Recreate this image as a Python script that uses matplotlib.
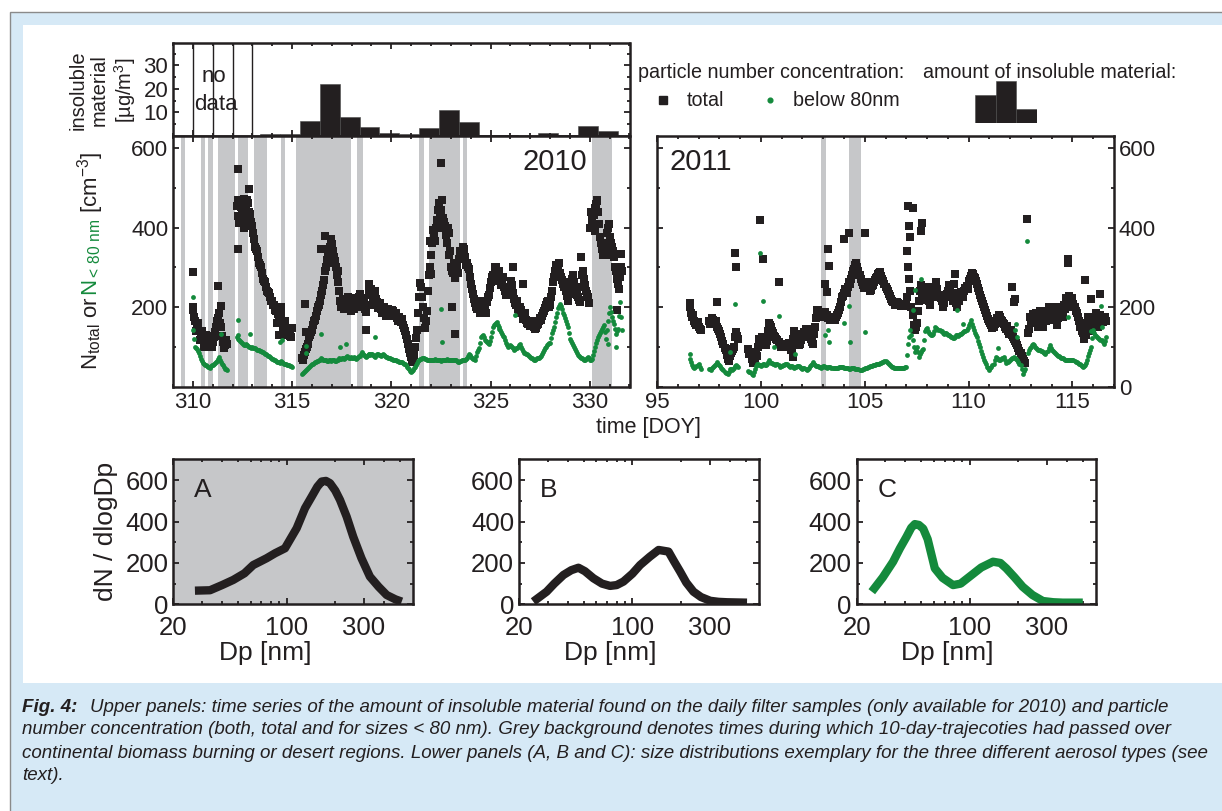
import numpy as np
import matplotlib
matplotlib.use('Agg')
import matplotlib.pyplot as plt
import matplotlib.transforms as mtransforms
from matplotlib.patches import Rectangle
from matplotlib.lines import Line2D
from matplotlib import font_manager
from matplotlib.ticker import FixedLocator, NullFormatter

nan = float('nan')

# ---- daily filter samples (2010): start DOY and insoluble material [ug/m3]
filter_start = [313.4, 314.4, 315.4, 316.4, 317.4, 318.4, 319.4, 320.4, 321.4,
                322.4, 323.4, 324.4, 325.4, 326.4, 327.4, 328.4, 329.4, 330.4]
filter_insol = [0.7, 0.7, 6.4, 22.1, 7.9, 3.9, 1.3, 0.7, 3.3,
                11.0, 6.0, 0.4, 0.3, 0.2, 1.1, 0.4, 4.1, 2.1]
no_data_days = [310, 311, 312, 313]

# ---- periods with continental (biomass burning / desert) trajectories
shade10_start = [309.39, 310.41, 310.76, 311.26, 312.27, 313.08, 314.42, 315.21,
                 318.27, 321.40, 321.90, 323.59, 330.09]
shade10_end = [309.62, 310.59, 311.01, 312.10, 312.77, 313.75, 314.62, 317.95,
               318.57, 321.63, 323.45, 323.79, 331.10]
shade11_start = [102.88, 104.25]
shade11_end = [103.13, 104.81]

# ---- 2010 particle number concentration [cm-3]
# samples on the full tenth of a day (310.0 ...) and on the half steps (310.05 ...)
t10 = np.round(np.arange(310.0, 331.65, 0.1), 2)
t10b = np.round(np.arange(310.05, 331.6, 0.1), 2)
ntot10 = [
    200, 165, 150, 140, 125, 118, 110, 128, 105, 118,
    112, 138, 165, 185, 150, 112, 104, 108, nan, nan,
    nan, nan, 455, 430, 465, 440, 472, 448, 462, 435,
    405, 370, 345, 325, 305, 285, 265, 250, 238, 226,
    216, 205, 190, 182, 170, 162, 150, 142, 133, 128,
    148, nan, nan, nan, nan, 72, 80, 95, 108, 130,
    142, 165, 178, 200, 215, 240, 268, 300, 335, 350,
    358, 325, 300, 262, 215, 205, 195, 210, 225, 200,
    205, 195, 222, 212, 232, 200, 216, 188, 205, 250,
    245, 222, 205, 212, 200, 195, 192, 188, 185, 190,
    183, 190, 178, 172, 175, 162, 155, 140, 120, 95,
    75, 62, 100, 142, 225, 250, 200, 148, 190, 280,
    330, 395, 365, 420, 462, 445, 425, 405, 362, 385,
    300, 285, 272, 300, 322, 338, 350, 325, 310, 295,
    258, 232, 210, 195, 205, 190, 185, 198, 212, 230,
    262, 280, 295, 285, 275, 265, 258, 250, 230, 245,
    250, 255, 220, 205, 195, 200, 185, 178, 168, 158,
    152, 165, 150, 148, 158, 172, 178, 190, 205, 215,
    205, 240, 275, 305, 300, 285, 268, 250, 240, 215,
    248, 270, 262, 238, 225, 212, 280, 270, 240, 225,
    400, 420, 432, 460, 440, 375, 345, 330, 360, 400,
    375, 350, 325, 292, 258, 275, 290]
ntot10b = [
    175, 140, 160, 118, 140, 100, 130, 108, 125, 100,
    125, 150, 172, 160, 128, 98, 118, nan, nan, nan,
    nan, nan, 470, 412, 452, 425, 455, 470, 440, 415,
    385, 352, 340, 310, 300, 270, 262, 240, 236, 215,
    205, 192, 200, 170, 185, 150, 165, 130, 148, 125,
    nan, nan, nan, nan, nan, 68, 88, 100, 125, 138,
    155, 168, 190, 205, 230, 255, 290, 318, 345, 370,
    340, 315, 280, 240, 200, 220, 205, 195, 212, 190,
    215, 210, 200, 225, 210, 222, 195, 205, 232, 235,
    230, 215, 220, 198, 210, 185, 200, 178, 195, 178,
    192, 180, 185, 165, 168, 170, 148, 130, 108, 85,
    65, 80, 122, 185, 260, 225, 172, 165, 240, 300,
    360, 380, 400, 445, 440, 470, 415, 380, 400, 340,
    292, 310, 290, 285, 340, 325, 345, 305, 300, 275,
    245, 220, 200, 215, 185, 200, 205, 185, 225, 248,
    275, 265, 300, 270, 290, 255, 275, 240, 250, 230,
    265, 235, 210, 215, 185, 192, 170, 185, 160, 165,
    160, 155, 145, 155, 165, 168, 185, 198, 212, 200,
    225, 262, 290, 295, 310, 275, 258, 262, 228, 232,
    262, 280, 250, 230, 218, 250, 292, 255, 232, 210,
    440, 405, 450, 470, 410, 360, 330, 350, 385, 410,
    360, 340, 300, 270, 245, 300]
nsmall10 = [
    142, 100, 95, 85, 70, 60, 55, 52, 50, 52,
    55, 60, 65, 75, 62, 55, 45, 42, nan, nan,
    nan, nan, 125, 120, 115, 110, 105, 108, 102, 100,
    100, 97, 95, 92, 90, 88, 85, 82, 78, 75,
    70, 68, 65, 62, 60, 62, 58, 56, 55, 53,
    50, nan, nan, nan, nan, 33, 36, 42, 48, 52,
    56, 60, 62, 65, 68, 70, 66, 68, 65, 66,
    68, 66, 64, 68, 70, 72, 70, 74, 75, 72,
    72, 75, 70, 75, 78, 87, 80, 75, 80, 83,
    82, 80, 75, 83, 80, 78, 82, 76, 75, 72,
    70, 68, 67, 65, 63, 62, 60, 57, 50, 45,
    37, 42, 50, 60, 67, 70, 72, 70, 68, 67,
    66, 67, 70, 66, 67, 65, 68, 66, 70, 67,
    66, 67, 68, 64, 62, 65, 66, 68, 72, 83,
    75, 70, 68, 88, 96, 125, 130, 118, 112, 108,
    125, 150, 158, 162, 150, 142, 132, 125, 110, 100,
    104, 100, 92, 96, 100, 108, 95, 85, 83, 80,
    75, 72, 67, 70, 72, 75, 82, 92, 100, 108,
    110, 135, 150, 175, 198, 208, 195, 179, 165, 150,
    121, 110, 100, 90, 79, 74, 71, 67, 70, 75,
    67, 70, 90, 110, 125, 135, 145, 155, 120, 165,
    200, 175, 158, 133, 145, 212, 142]
nsmall10b = [
    120, 98, 90, 78, 65, 58, 54, 50, 48, 55,
    58, 62, 70, 68, 58, 50, 44, nan, nan, nan,
    nan, nan, 130, 118, 112, 107, 106, 104, 100, 98,
    98, 96, 93, 91, 89, 86, 83, 80, 76, 72,
    69, 66, 63, 61, 64, 60, 57, 55, 54, 51,
    nan, nan, nan, nan, nan, 35, 39, 45, 50, 54,
    58, 61, 64, 66, 72, 68, 67, 64, 68, 64,
    67, 65, 66, 72, 69, 71, 72, 76, 73, 74,
    73, 72, 73, 77, 82, 83, 77, 78, 82, 80,
    83, 78, 79, 81, 79, 80, 79, 75, 73, 71,
    69, 67, 66, 64, 62, 61, 58, 54, 48, 40,
    39, 46, 55, 64, 69, 71, 71, 69, 67, 66,
    66, 68, 68, 66, 66, 67, 67, 68, 68, 66,
    66, 68, 66, 63, 64, 66, 67, 70, 78, 80,
    72, 69, 78, 92, 110, 128, 124, 115, 110, 116,
    138, 154, 160, 156, 146, 137, 128, 118, 105, 102,
    102, 96, 94, 98, 104, 100, 90, 84, 82, 78,
    73, 70, 68, 71, 73, 78, 87, 96, 104, 109,
    122, 142, 162, 186, 204, 202, 186, 172, 158, 135,
    115, 105, 95, 84, 76, 72, 69, 68, 72, 71,
    68, 80, 100, 118, 130, 140, 150, 138, 142, 185,
    188, 165, 145, 140, 178, 175]
# isolated samples off the main band
ntot10_x_t = [310.0, 310.02, 311.29, 311.43, 312.27, 312.3, 312.82, 312.6, 312.7,
              314.25, 314.45, 314.35, 315.63, 315.68, 316.45, 316.64, 316.8, 317.1,
              317.3, 318.74, 318.9, 319.2, 321.93, 322.02, 322.52, 322.6, 322.9,
              323.06, 323.2, 324.6, 325.21, 326.13, 326.64, 328.4, 329.58, 330.34,
              330.25, 330.9, 331.35, 331.55]
ntot10_x_v = [289, 192, 252, 204, 547, 346, 496, 400, 420,
              160, 200, 130, 207, 137, 346, 379, 330, 312,
              290, 142, 258, 240, 367, 283, 562, 400, 330,
              200, 133, 215, 300, 300, 258, 285, 325, 467,
              392, 330, 192, 333]
nsmall10_x_t = [310.0, 311.43, 312.27, 312.86, 314.4, 314.48, 315.68, 315.71, 316.45,
                317.4, 317.73, 319.16, 322.52, 322.55, 326.22, 330.9, 331.3]
nsmall10_x_v = [225, 133, 167, 133, 112, 117, 102, 85, 133,
                100, 108, 125, 196, 112, 179, 108, 100]

# ---- 2011 particle number concentration [cm-3]
t11 = np.round(np.arange(96.6, 116.65, 0.1), 2)
t11b = np.round(np.arange(96.65, 116.6, 0.1), 2)
ntot11 = [
    200, 175, 165, 155, 150, 142, nan, nan, nan, 165,
    160, 168, 158, 150, 140, 125, 108, 92, 70, 78,
    90, 100, 137, 120, nan, nan, nan, nan, 95, 88,
    60, 72, 78, 120, 110, 108, 120, 115, 160, 150,
    135, 125, 118, 108, 102, 100, 108, 104, 100, 95,
    140, 133, 115, 108, 130, 138, 142, 145, 120, 108,
    150, 188, 183, 178, 185, 188, 180, 175, 170, 172,
    175, 185, 200, 225, 235, 242, 250, 258, 280, 295,
    312, 290, 270, 255, 250, 258, 248, 242, 255, 268,
    275, 285, 278, 265, 250, 240, 228, 215, 212, 208,
    210, 206, 204, 206, 208, 300, 240, 180, 142, 160,
    215, 255, 235, 225, 250, 215, 225, 235, 250, 245,
    230, 215, 210, 225, 240, 250, 235, 225, 210, 220,
    225, 232, 240, 252, 265, 278, 283, 272, 258, 240,
    222, 208, 192, 178, 165, 155, 150, 165, 170, 175,
    165, 158, 145, 140, 137, 130, 120, 110, 98, 85,
    70, 60, nan, 145, 160, 183, 165, 160, 175, 160,
    150, 185, 190, 168, 195, 185, 168, 172, 175, 190,
    205, 222, 210, 215, 222, 200, 185, 165, 150, 135,
    145, 160, 172, 165, 150, 168, 175, 160, 175, 168,
    165]
ntot11b = [
    185, 180, 160, 162, 145, nan, nan, nan, nan, 158,
    172, 160, 165, 145, 132, 115, 98, 80, 65, 85,
    95, 125, 128, nan, nan, nan, nan, nan, 82, 70,
    65, 85, 100, 105, 125, 115, 105, 140, 155, 140,
    128, 120, 112, 100, 108, 104, 100, 110, 92, 120,
    128, 120, 105, 118, 125, 145, 135, 138, 112, 132,
    172, 192, 176, 182, 180, 178, 172, 168, 175, 168,
    180, 192, 212, 228, 245, 235, 262, 270, 290, 305,
    300, 280, 262, 248, 262, 250, 240, 252, 262, 272,
    282, 288, 270, 258, 245, 232, 220, 212, 206, 212,
    205, 202, 208, 204, 225, 270, 200, 155, 150, 190,
    240, 230, 218, 242, 230, 205, 248, 225, 262, 228,
    222, 200, 228, 232, 255, 228, 215, 235, 200, 215,
    238, 225, 248, 245, 270, 285, 276, 265, 248, 230,
    215, 200, 185, 170, 160, 148, 158, 172, 180, 168,
    160, 150, 152, 132, 142, 125, 115, 104, 90, 78,
    65, nan, 135, 175, 170, 160, 185, 150, 190, 155,
    172, 165, 200, 180, 170, 200, 155, 190, 200, 175,
    195, 210, 228, 200, 208, 190, 175, 150, 140, 120,
    130, 175, 160, 140, 165, 185, 150, 180, 162, 175]
nsmall11 = [
    70, 55, 46, 52, 58, 44, nan, nan, nan, 45,
    43, 50, 55, 62, 55, 48, 42, 35, 33, 45,
    42, 48, 55, 50, nan, nan, nan, nan, 40, 37,
    29, 45, 58, 55, 52, 58, 54, 56, 67, 60,
    58, 55, 58, 50, 52, 55, 58, 54, 50, 52,
    48, 50, 52, 50, 45, 48, 42, 48, 55, 62,
    54, 52, 50, 48, 52, 50, 48, 50, 48, 46,
    46, 48, 50, 50, 48, 47, 46, 45, 46, 46,
    45, 44, 43, 44, 46, 48, 50, 52, 54, 55,
    56, 58, 60, 62, 65, 60, 55, 50, 48, 47,
    46, 46, 48, 48, 50, 108, 142, 117, 87, 100,
    75, 88, 95, 140, 148, 135, 130, 132, 150, 145,
    142, 140, 132, 135, 130, 128, 125, 122, 130, 128,
    132, 135, 140, 142, 155, 167, 150, 135, 125, 108,
    90, 75, 62, 50, 42, 50, 58, 75, 70, 67,
    72, 75, 60, 62, 67, 72, 75, 70, 62, 55,
    33, 45, nan, 92, 100, 108, 100, 95, 92, 90,
    88, 83, 90, 105, 92, 88, 82, 78, 75, 72,
    70, 67, 68, 66, 67, 65, 62, 58, 55, 50,
    55, 67, 85, 100, 142, 130, 125, 120, 117, 108,
    125]
nsmall11b = [
    62, 50, 49, 55, 50, nan, nan, nan, nan, 44,
    46, 52, 58, 58, 52, 45, 38, 34, 38, 44,
    45, 52, 52, nan, nan, nan, nan, nan, 38, 33,
    36, 52, 56, 54, 55, 56, 55, 62, 63, 59,
    56, 56, 54, 51, 54, 56, 56, 52, 51, 50,
    49, 51, 51, 48, 46, 45, 45, 52, 58, 58,
    53, 51, 49, 50, 51, 49, 49, 49, 47, 46,
    47, 49, 50, 49, 47, 46, 45, 46, 46, 45,
    44, 43, 43, 45, 47, 49, 51, 53, 55, 56,
    57, 59, 61, 64, 62, 57, 52, 49, 47, 46,
    46, 47, 48, 49, 80, 125, 130, 100, 92, 88,
    82, 92, 118, 144, 140, 132, 131, 140, 148, 143,
    141, 136, 134, 132, 129, 126, 123, 126, 129, 130,
    133, 138, 141, 148, 161, 158, 142, 130, 116, 99,
    82, 68, 56, 46, 46, 54, 66, 72, 68, 70,
    73, 68, 61, 65, 70, 73, 72, 66, 58, 44,
    39, nan, 85, 96, 104, 104, 97, 93, 91, 89,
    85, 86, 98, 98, 90, 85, 80, 76, 73, 71,
    68, 67, 67, 66, 66, 63, 60, 56, 52, 52,
    60, 76, 92, 122, 136, 128, 122, 118, 112, 116]
ntot11_x_t = [96.6, 97.88, 98.77, 98.8, 99.97, 100.1, 100.85, 101.57, 102.7, 103.09,
              103.17, 103.25, 103.27, 104.0, 104.26, 105.02, 107.02, 107.1, 107.34,
              107.12, 107.2, 107.74, 107.7, 109.34, 109.3, 112.07, 112.23, 112.2,
              112.79, 114.79, 114.8, 115.59, 115.9, 116.31]
ntot11_x_v = [210, 212, 337, 300, 419, 322, 262, 75, 192, 258,
              237, 346, 304, 371, 386, 387, 342, 454, 450,
              404, 375, 412, 392, 283, 258, 250, 221, 212,
              421, 321, 312, 267, 221, 233]
nsmall11_x_t = [96.6, 98.53, 98.77, 99.97, 100.1, 100.61, 100.85, 101.65, 103.09,
                103.25, 103.27, 104.0, 104.26, 104.28, 105.02, 107.34, 107.42, 107.7,
                109.42, 109.74, 111.4, 112.23, 112.28, 112.32, 112.79, 114.79,
                116.39, 116.4, 115.9]
nsmall11_x_v = [83, 87, 208, 337, 215, 100, 177, 83, 129,
                142, 112, 160, 202, 112, 137, 192, 242, 271,
                192, 158, 96, 142, 158, 125, 367, 175,
                204, 150, 140]

# ---- exemplary size distributions (dN/dlogDp vs Dp [nm])
dp_a = [27.2, 33.7, 40, 46.9, 55, 62.3, 68, 75.4, 85, 97.8, 115.5, 130, 143, 155,
        164.8, 175, 185.5, 200, 213.8, 235, 258, 290, 327, 370, 415, 470, 514]
dn_a = [66, 68, 93, 118, 150, 190, 205, 223, 247, 271, 368, 465, 521, 569,
        594, 597, 586, 550, 505, 424, 327, 223, 134, 85, 45, 24, 13]
dp_b = [24.5, 29.6, 33, 37.6, 42, 46.5, 51, 57.5, 65, 72.9, 80, 88.1, 100, 111.6,
        128, 145, 167, 180, 197, 215, 238, 265, 302, 340, 383, 440, 509]
dn_b = [13, 61, 100, 142, 165, 177, 160, 126, 100, 89, 93, 110, 148, 190,
        230, 263, 255, 210, 158, 105, 61, 35, 17, 12, 10, 9, 8]
dp_c = [24.8, 29, 33.6, 37, 40.7, 43.5, 45.8, 48.5, 51.6, 55, 60.9, 68, 79, 88,
        100, 118, 139.6, 155, 168.7, 190, 213, 245, 284, 330, 377, 440, 502]
dn_c = [61, 130, 206, 270, 327, 370, 388, 384, 366, 315, 174, 128, 93, 100,
        134, 178, 206, 200, 174, 130, 85, 45, 16, 10, 8, 8, 8]

legend_icon = [28, 42, 14]

W, H = 1222, 811
INK = '#231f20'
GREEN = '#148a3c'
GREY = '#c6c7c9'
BLUE = '#d6e9f6'

plt.rcParams['font.family'] = ['Liberation Sans', 'DejaVu Sans']
plt.rcParams['mathtext.fontset'] = 'custom'
plt.rcParams['mathtext.rm'] = 'Liberation Sans'
plt.rcParams['mathtext.it'] = 'Liberation Sans:italic'
plt.rcParams['mathtext.bf'] = 'Liberation Sans:bold'
plt.rcParams['text.color'] = INK
plt.rcParams['axes.edgecolor'] = INK
plt.rcParams['xtick.color'] = INK
plt.rcParams['ytick.color'] = INK


def box(x0, y0, x1, y1):
    # pixel box (top-left origin) -> figure rect
    return [x0 / W, 1 - y1 / H, (x1 - x0) / W, (y1 - y0) / H]


def style(ax, size, major=4.3, minor=2.5, padx=3.5, pady=3.5):
    for s in ax.spines.values():
        s.set_linewidth(1.8)
    ax.tick_params(which='both', direction='in', top=True, right=True,
                   width=1.3, labelsize=size)
    ax.tick_params(which='major', length=major)
    ax.tick_params(which='minor', length=minor)
    ax.tick_params(axis='x', pad=padx)
    ax.tick_params(axis='y', pad=pady)


fig = plt.figure(figsize=(W / 100, H / 100), dpi=100, facecolor='white')
renderer = fig.canvas.get_renderer()

# page frame
fig.add_artist(Rectangle((10 / W, -0.02), 1.1, 1 - 12 / H + 0.02, transform=fig.transFigure,
                         facecolor=BLUE, edgecolor='#8a8a8a', lw=1.0, zorder=-3))
fig.add_artist(Rectangle((23 / W, 1 - 683 / H), 1.1, (683 - 25) / H, transform=fig.transFigure,
                         facecolor='white', edgecolor='none', zorder=-2))

# ---- insoluble material bars
ax_bar = fig.add_axes(box(173, 43, 629.5, 136))
ax_bar.bar(filter_start, filter_insol, width=1.0, align='edge', color=INK,
           edgecolor='#4a4a4a', lw=0.4)
for d in no_data_days:
    ax_bar.axvline(d, color=INK, lw=1.0)
ax_bar.set_xlim(309.0, 332.0)
ax_bar.set_ylim(0, 39.5)
ax_bar.set_yticks([10, 20, 30])
ax_bar.yaxis.set_minor_locator(FixedLocator([5, 15, 25, 35]))
ax_bar.set_xticks([310, 315, 320, 325, 330])
ax_bar.xaxis.set_minor_locator(FixedLocator(np.arange(309, 333)))
style(ax_bar, 16)
ax_bar.tick_params(labelbottom=False)
fig.text(213.5 / W, 1 - 77 / H, 'no', fontsize=16, ha='center', va='center')
fig.text(216 / W, 1 - 104 / H, 'data', fontsize=16, ha='center', va='center')
fig.text(103 / W, 1 - 90 / H, 'insoluble\nmaterial\n[µg/m$^{3}$]', fontsize=14.5,
         rotation=90, ha='center', va='center', multialignment='center', linespacing=1.15)

# ---- time series panels
ax10 = fig.add_axes(box(173, 136, 629.5, 386.7))
ax11 = fig.add_axes(box(657, 136, 1114, 386.7))

for a, b in zip(shade10_start, shade10_end):
    ax10.axvspan(a, b, color=GREY, lw=0, zorder=0)
for a, b in zip(shade11_start, shade11_end):
    ax11.axvspan(a, b, color=GREY, lw=0, zorder=0)

sq = dict(marker='s', s=26, color=INK, lw=0, zorder=3)
dot = dict(marker='o', s=12, color=GREEN, lw=0, zorder=4)
ax10.scatter(t10, ntot10, **sq)
ax10.scatter(t10b, ntot10b, **sq)
ax10.scatter(ntot10_x_t, ntot10_x_v, **sq)
ax10.scatter(t10, nsmall10, **dot)
ax10.scatter(t10b, nsmall10b, **dot)
ax10.scatter(nsmall10_x_t, nsmall10_x_v, **dot)
ax11.scatter(t11, ntot11, **sq)
ax11.scatter(t11b, ntot11b, **sq)
ax11.scatter(ntot11_x_t, ntot11_x_v, **sq)
ax11.scatter(t11, nsmall11, **dot)
ax11.scatter(t11b, nsmall11b, **dot)
ax11.scatter(nsmall11_x_t, nsmall11_x_v, **dot)

ax10.set_xlim(309.0, 332.0)
ax11.set_xlim(95.0, 117.0)
for ax in (ax10, ax11):
    ax.set_ylim(0, 630)
    ax.yaxis.set_minor_locator(FixedLocator([100, 300, 500]))
    ax.xaxis.set_minor_locator(FixedLocator(np.arange(90, 340)))
    style(ax, 16)
ax10.set_xticks([310, 315, 320, 325, 330])
ax10.set_yticks([200, 400, 600])
ax11.set_xticks([95, 100, 105, 110, 115])
ax11.set_yticks([0, 200, 400, 600])
ax11.tick_params(labelleft=False, labelright=True)
ax10.text(0.907, 0.896, '2010', transform=ax10.transAxes, fontsize=21, ha='right', va='center')
ax11.text(0.028, 0.896, '2011', transform=ax11.transAxes, fontsize=21, ha='left', va='center')
fig.text(648 / W, 1 - 428 / H, 'time [DOY]', fontsize=15.5, ha='center', va='center')

# y label with coloured middle part
tr = fig.transFigure
for s, c in [('N$_{\\mathrm{total}}$ or ', INK),
             ('N$_{\\mathrm{<\\,80\\ nm}}$', GREEN),
             (' [cm$^{\\mathrm{-3}}$]', INK)]:
    t = fig.text(97 / W, 1 - 370 / H, s, color=c, fontsize=16, rotation=90,
                 rotation_mode='anchor', ha='left', va='baseline', transform=tr)
    ext = t.get_window_extent(renderer)
    tr = mtransforms.offset_copy(t.get_transform(), y=ext.height, units='dots')

# ---- legend
fig.text(638 / W, 1 - 72 / H, 'particle number concentration:', fontsize=14.2, va='center')
fig.text(923 / W, 1 - 72 / H, 'amount of insoluble material:', fontsize=14.2, va='center')
fig.add_artist(Line2D([662.5 / W], [1 - 100 / H], marker='s', ms=5.2, color=INK, lw=0,
                      transform=fig.transFigure))
fig.text(687 / W, 1 - 100 / H, 'total', fontsize=14.2, va='center')
fig.add_artist(Line2D([770 / W], [1 - 100 / H], marker='o', ms=3.4, color=GREEN, lw=0,
                      transform=fig.transFigure))
fig.text(793 / W, 1 - 100 / H, 'below 80nm', fontsize=14.2, va='center')
ax_icon = fig.add_axes(box(975, 81, 1037, 123))
ax_icon.bar(range(len(legend_icon)), legend_icon, width=1.0, align='edge', color=INK,
            edgecolor='#4a4a4a', lw=0.4)
ax_icon.set_xlim(0, len(legend_icon))
ax_icon.set_ylim(0, max(legend_icon))
ax_icon.axis('off')

# ---- size distributions
panels = [(box(173.3, 459, 413.3, 604.3), dp_a, dn_a, INK, GREY, 'A', 265),
          (box(519, 459, 759.3, 604.3), dp_b, dn_b, INK, 'white', 'B', 610.5),
          (box(856.7, 459, 1096, 604.3), dp_c, dn_c, GREEN, 'white', 'C', 947)]
for rect, dp, dn, col, bg, lab, lab_x in panels:
    ax = fig.add_axes(rect)
    ax.set_facecolor(bg)
    ax.plot(dp, dn, color=col, lw=6, solid_capstyle='butt', solid_joinstyle='round')
    ax.set_xscale('log')
    ax.set_xlim(20, 606)
    ax.set_ylim(0, 703)
    ax.set_xticks([20, 100, 300])
    ax.set_xticklabels(['20', '100', '300'])
    ax.xaxis.set_minor_locator(FixedLocator([30, 40, 50, 60, 70, 80, 90, 200, 400, 500]))
    ax.xaxis.set_minor_formatter(NullFormatter())
    ax.set_yticks([0, 200, 400, 600])
    ax.yaxis.set_minor_locator(FixedLocator([100, 300, 500]))
    style(ax, 18.5, major=4.5, minor=2.5, padx=8.5, pady=3.5)
    ax.text(0.088, 0.787, lab, transform=ax.transAxes, fontsize=19, ha='left', va='center')
    fig.text(lab_x / W, 1 - 653 / H, 'Dp [nm]', fontsize=19, ha='center', va='center')
fig.text(106 / W, 1 - 531 / H, 'dN / dlogDp', fontsize=19, rotation=90, ha='center', va='center')

# ---- caption, sized so that its longest line ends at the right edge
names = {f.name for f in font_manager.fontManager.ttflist}
cap_family = 'Liberation Sans Narrow' if 'Liberation Sans Narrow' in names else 'Liberation Sans'
cap_head = 'Fig. 4:'
cap_lines = [
    'Upper panels: time series of the amount of insoluble material found on the daily filter samples (only available for 2010) and particle',
    'number concentration (both, total and for sizes < 80 nm). Grey background denotes times during which 10-day-trajecoties had passed over',
    'continental biomass burning or desert regions. Lower panels (A, B and C): size distributions exemplary for the three different aerosol types (see',
    'text).',
]
cap_kw = dict(family=cap_family, style='italic', va='center')
gap = 12
probe = fig.text(0, 0, cap_head, weight='bold', fontsize=10, **cap_kw)
w_head = probe.get_window_extent(renderer).width
probe.remove()
widths = []
for line in cap_lines:
    probe = fig.text(0, 0, line, fontsize=10, **cap_kw)
    widths.append(probe.get_window_extent(renderer).width)
    probe.remove()
avail = 1218 - 22
k = min((avail - gap) / (w_head + widths[0]), *[avail / w for w in widths[1:]])
cap_size = 10 * k
fig.text(22 / W, 1 - 707 / H, cap_head, weight='bold', fontsize=cap_size, **cap_kw)
fig.text((22 + w_head * k + gap) / W, 1 - 707 / H, cap_lines[0], fontsize=cap_size, **cap_kw)
for i, line in enumerate(cap_lines[1:]):
    fig.text(22 / W, 1 - (730 + 23 * i) / H, line, fontsize=cap_size, **cap_kw)

fig.savefig('out.png', dpi=100, facecolor=fig.get_facecolor())
